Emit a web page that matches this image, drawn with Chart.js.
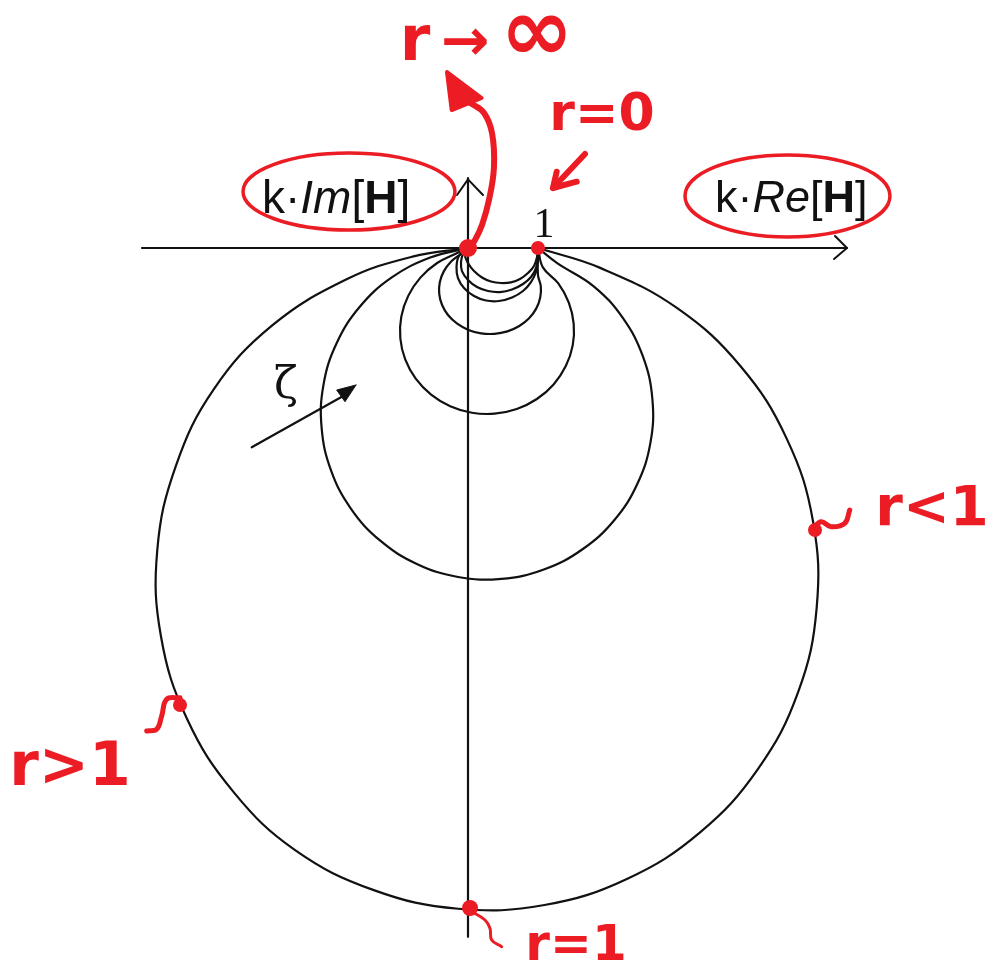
<!DOCTYPE html>
<html><head><meta charset="utf-8">
<script src="https://cdn.jsdelivr.net/npm/chart.js@4/dist/chart.umd.min.js"></script>
<style>html,body{margin:0;padding:0;background:#fff}#wrap{width:994px;height:964px;position:relative}</style>
</head><body><div id="wrap"><canvas id="c"></canvas></div>
<script>
// Nyquist loci of k·H (Re, Im); one curve per damping ratio ζ (smallest loop = largest ζ)
const curve1 = [[1,0],[0.986,-0.129],[0.943,-0.257],[0.857,-0.357],[0.743,-0.443],[0.614,-0.49],[0.471,-0.5],[0.329,-0.479],[0.2,-0.421],[0.086,-0.329],[0,-0.214],[-0.043,-0.1],[0,0]];
const curve2 = [[1,0],[1,-0.143],[0.971,-0.286],[0.9,-0.414],[0.786,-0.514],[0.629,-0.593],[0.457,-0.629],[0.286,-0.614],[0.129,-0.557],[0,-0.457],[-0.086,-0.329],[-0.1,-0.2],[-0.071,-0.086],[0,0]];
const curve3 = [[1,0],[1,-0.171],[0.971,-0.343],[0.9,-0.486],[0.786,-0.614],[0.629,-0.707],[0.443,-0.757],[0.257,-0.75],[0.086,-0.686],[-0.057,-0.571],[-0.143,-0.429],[-0.164,-0.271],[-0.129,-0.114],[0,0]];
const curve4 = [[1,0],[0.999,-0.384],[1.04,-0.546],[1.031,-0.71],[0.974,-0.866],[0.873,-1.004],[0.733,-1.114],[0.563,-1.191],[0.377,-1.226],[0.187,-1.219],[0.006,-1.17],[-0.154,-1.081],[-0.283,-0.961],[-0.37,-0.814],[-0.411,-0.654],[-0.403,-0.49],[-0.346,-0.334],[-0.244,-0.196],[-0.104,-0.086],[0,0]];
const curve5 = [[1,0],[1.07,-0.277],[1.29,-0.506],[1.44,-0.78],[1.51,-1.083],[1.496,-1.391],[1.397,-1.687],[1.223,-1.949],[0.984,-2.157],[0.697,-2.3],[0.38,-2.367],[0.056,-2.354],[-0.254,-2.26],[-0.527,-2.094],[-0.747,-1.866],[-0.897,-1.591],[-0.967,-1.289],[-0.953,-0.98],[-0.854,-0.684],[-0.68,-0.423],[-0.441,-0.214],[-0.154,-0.071],[0,0]];
const curve6 = [[1,0],[1.274,-0.216],[1.796,-0.547],[2.214,-1.003],[2.5,-1.553],[2.634,-2.157],[2.607,-2.777],[2.42,-3.367],[2.089,-3.889],[1.631,-4.307],[1.083,-4.593],[0.477,-4.726],[-0.141,-4.7],[-0.731,-4.513],[-1.253,-4.181],[-1.671,-3.726],[-1.957,-3.176],[-2.091,-2.57],[-2.064,-1.951],[-1.877,-1.361],[-1.546,-0.84],[-1.089,-0.421],[-0.54,-0.136],[0,0]];
const curve7 = [[1,0],[1.889,-0.284],[2.984,-0.856],[3.894,-1.689],[4.556,-2.73],[4.929,-3.907],[4.981,-5.14],[4.716,-6.346],[4.144,-7.441],[3.311,-8.351],[2.27,-9.013],[1.093,-9.386],[-0.14,-9.439],[-1.346,-9.173],[-2.47,-8.601],[-3.351,-7.769],[-4.013,-6.729],[-4.386,-5.55],[-4.439,-4.317],[-4.173,-3.111],[-3.63,-2.016],[-2.797,-1.106],[-1.727,-0.444],[-0.793,-0.123],[0,0]];

// axes
const realAxis = [[-4.657,0],[5.414,0]];
const realArrow = [[5.243,0.171],[5.414,0],[5.229,-0.157]];
const imagAxis = [[0,1.0],[0,-9.84]];
const imagArrow = [[-0.157,0.757],[0,0.98],[0.214,0.757]];

// ζ arrow
const zetaArrowLine = [[-3.09,-2.847],[-1.757,-2.1]];
const zetaArrowHead = [[-1.6,-1.957],[-1.876,-2.029],[-1.757,-2.196],[-1.6,-1.957]];

// red annotations
const markedPoints = [[0,0],[1,0],[4.957,-4.029],[-4.114,-6.529],[0.029,-9.429]];
const rInfPath = [[0,-0.029],[0.1,0.114],[0.2,0.329],[0.3,0.686],[0.371,1.157],[0.343,1.643],[0.229,1.929],[0.057,2.057],[-0.114,2.143]];
const rInfHead = [[-0.3,2.514],[-0.233,1.971],[0.195,2.143],[-0.3,2.514]];
const r0ArrowLine = [[1.671,1.343],[1.214,0.857]];
const r0ArrowHead = [[1.267,1.09],[1.214,0.857],[1.553,0.947]];
const squiggleLess = [[4.91,-4.029],[5.043,-3.91],[5.186,-3.981],[5.381,-3.933],[5.453,-3.743]];
const squiggleGreater = [[-4.114,-6.424],[-4.305,-6.447],[-4.376,-6.686],[-4.448,-6.876],[-4.59,-6.9]];
const squiggleOne = [[0.053,-9.481],[0.243,-9.6],[0.314,-9.719],[0.338,-9.886],[0.481,-9.981]];

const RED = '#ec1c24';
const BLACK = '#111111';
const pts = a => a.map(p => ({x: p[0], y: p[1]}));

function lineDs(arr, color, width, extra) {
  return Object.assign({data: pts(arr), showLine: true, borderColor: color, backgroundColor: color,
    borderWidth: width, pointRadius: 0, tension: 0, fill: false, borderCapStyle: 'round', borderJoinStyle: 'round'}, extra || {});
}

const datasets = [
  {data: pts(markedPoints), showLine: false, pointRadius: [9,7,7,7,8], pointBackgroundColor: RED, pointBorderWidth: 0},
  lineDs(rInfHead, RED, 4, {fill: 'shape', backgroundColor: RED}),
  lineDs(rInfPath, RED, 6, {tension: 0.4}),
  lineDs(r0ArrowLine, RED, 6),
  lineDs(r0ArrowHead, RED, 6),
  lineDs(squiggleLess, RED, 5, {tension: 0.4}),
  lineDs(squiggleGreater, RED, 5, {tension: 0.4}),
  lineDs(squiggleOne, RED, 3, {tension: 0.4}),
  lineDs(zetaArrowHead, BLACK, 1, {fill: 'shape', backgroundColor: BLACK}),
  lineDs(zetaArrowLine, BLACK, 2.2),
  lineDs(curve1, BLACK, 2.2, {tension: 0.4}),
  lineDs(curve2, BLACK, 2.2, {tension: 0.4}),
  lineDs(curve3, BLACK, 2.2, {tension: 0.4}),
  lineDs(curve4, BLACK, 2.2, {tension: 0.4}),
  lineDs(curve5, BLACK, 2.2, {tension: 0.4}),
  lineDs(curve6, BLACK, 2.2, {tension: 0.4}),
  lineDs(curve7, BLACK, 2.2, {tension: 0.4}),
  lineDs(realAxis, BLACK, 2.2),
  lineDs(realArrow, BLACK, 2),
  lineDs(imagAxis, BLACK, 2.2),
  lineDs(imagArrow, BLACK, 2)
];

// annotation layout (data coordinates)
const annot = {
  ellipses: [{cx: -1.7, cy: 0.807, rx: 1.514, ry: 0.55}, {cx: 4.564, cy: 0.743, rx: 1.464, ry: 0.586}],
  redTexts: [
    {t: 'r', x: -0.757, y: 2.686, size: 62},
    {t: '→', x: -0.043, y: 2.686, size: 58},
    {t: '∞', x: 0.986, y: 2.686, size: 88},
    {t: 'r=0', x: 1.914, y: 1.686, size: 52},
    {t: 'r<1', x: 6.629, y: -3.957, size: 56},
    {t: 'r>1', x: -5.686, y: -7.671, size: 60},
    {t: 'r=1', x: 1.543, y: -10.171, size: 50}
  ],
  imLabel: {x: -2.943, y: 0.5, size: 46},
  reLabel: {x: 3.529, y: 0.514, size: 45},
  one: {x: 1.086, y: 0.157, size: 42},
  zeta: {x: -2.6, y: -2.143, size: 44}
};

function drawRich(ctx, parts, x, y, size) {
  let cx = x;
  parts.forEach(p => {
    ctx.font = (p.s || '') + ' ' + (p.w || 'normal') + ' ' + size + 'px "Liberation Sans", Arial, sans-serif';
    ctx.fillText(p.t, cx, y);
    cx += ctx.measureText(p.t).width;
  });
}

const annotPlugin = {
  id: 'annot',
  afterDatasetsDraw(chart) {
    const ctx = chart.ctx, sx = chart.scales.x, sy = chart.scales.y;
    const px = v => sx.getPixelForValue(v), py = v => sy.getPixelForValue(v);
    const ux = sx.getPixelForValue(1) - sx.getPixelForValue(0);
    const uy = sy.getPixelForValue(0) - sy.getPixelForValue(1);
    ctx.save();
    ctx.strokeStyle = RED; ctx.lineWidth = 3.5;
    annot.ellipses.forEach(e => {
      ctx.beginPath();
      ctx.ellipse(px(e.cx), py(e.cy), e.rx * ux, e.ry * uy, 0, 0, Math.PI * 2);
      ctx.stroke();
    });
    ctx.fillStyle = RED; ctx.textAlign = 'center'; ctx.textBaseline = 'alphabetic';
    annot.redTexts.forEach(t => {
      ctx.font = 'bold ' + t.size + 'px "DejaVu Sans", sans-serif';
      ctx.fillText(t.t, px(t.x), py(t.y));
    });
    ctx.fillStyle = BLACK; ctx.textAlign = 'left';
    drawRich(ctx, [{t: 'k·'}, {t: 'Im', s: 'italic'}, {t: '['}, {t: 'H', w: 'bold'}, {t: ']'}], px(annot.imLabel.x), py(annot.imLabel.y), annot.imLabel.size);
    drawRich(ctx, [{t: 'k·'}, {t: 'Re', s: 'italic'}, {t: '['}, {t: 'H', w: 'bold'}, {t: ']'}], px(annot.reLabel.x), py(annot.reLabel.y), annot.reLabel.size);
    ctx.textAlign = 'center';
    ctx.font = annot.one.size + 'px "Liberation Serif", serif';
    ctx.fillText('1', px(annot.one.x), py(annot.one.y));
    ctx.font = annot.zeta.size + 'px "DejaVu Serif", serif';
    ctx.fillText('ζ', px(annot.zeta.x), py(annot.zeta.y));
    ctx.restore();
  }
};

new Chart(document.getElementById('c'), {
  type: 'scatter',
  data: {datasets},
  options: {
    responsive: true, maintainAspectRatio: false, animation: false,
    layout: {padding: 0, autoPadding: false},
    plugins: {legend: {display: false}, tooltip: {enabled: false}},
    scales: {
      x: {type: 'linear', display: false, min: -468 / 70, max: 526 / 70},
      y: {type: 'linear', display: false, min: -716 / 70, max: 248 / 70}
    }
  },
  plugins: [annotPlugin]
});
</script></body></html>
